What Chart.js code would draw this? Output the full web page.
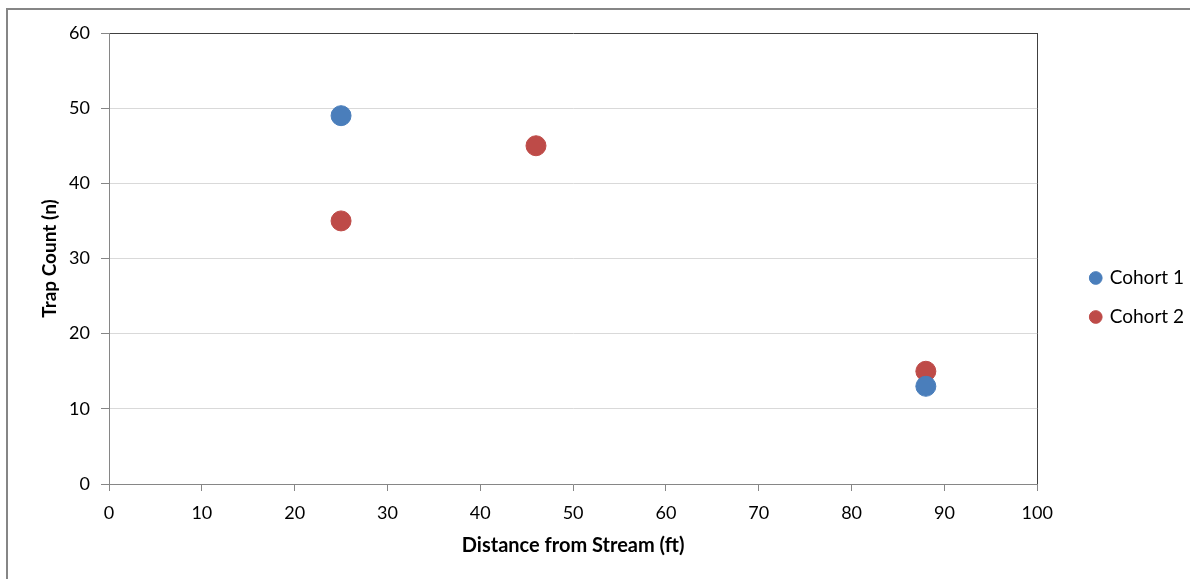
<!DOCTYPE html>
<html>
<head>
<meta charset="utf-8">
<script src="https://cdn.jsdelivr.net/npm/chart.js@4"></script>
<style>
  html, body { margin: 0; padding: 0; background: #fff; overflow: hidden; }
  #wrap { position: relative; width: 1190px; height: 579px; }
  #frame { position: absolute; left: 6px; top: 8px; width: 1300px; height: 700px;
           border: 2px solid #868686; pointer-events: none; }
</style>
</head>
<body>
<div id="wrap">
  <canvas id="plot"></canvas>
  <div id="frame"></div>
</div>
<script>
const seriesNames = ['Cohort 1', 'Cohort 2']
const cohort1X = [25, 88]
const cohort1Y = [49, 13]
const cohort2X = [25, 46, 88]
const cohort2Y = [35, 45, 15]
const colors = ['#4A7EBB', '#BE4B48']

const font = 'Lato, "Liberation Sans", sans-serif'

function toPoints (xs, ys) {
    return xs.map((x, i) => ({ x: x, y: ys[i] }))
}

// legend sits well away from the plot: reserve extra width, then slide it right
const legendGap = {
    id: 'legendGap',
    afterInit (chart) {
        const legend = chart.legend
        const fit = legend.fit
        legend.fit = function () {
            fit.call(this)
            this.width += 28
        }
    },
    afterLayout (chart) {
        const legend = chart.legend
        legend.left += 34
        legend.right += 34
        legend.top += 2
        legend.bottom += 2
    }
}

const config = {
    type: 'scatter',
    data: {
        datasets: [{
            label: seriesNames[0],
            data: toPoints(cohort1X, cohort1Y),
            backgroundColor: colors[0],
            borderColor: colors[0],
            pointRadius: 10,
            pointHoverRadius: 10
        }, {
            label: seriesNames[1],
            data: toPoints(cohort2X, cohort2Y),
            backgroundColor: colors[1],
            borderColor: colors[1],
            pointRadius: 10,
            pointHoverRadius: 10
        }]
    },
    options: {
        responsive: true,
        maintainAspectRatio: false,
        animation: false,
        layout: {
            padding: { left: 38, top: 33, right: 2, bottom: 21 }
        },
        plugins: {
            tooltip: { enabled: false },
            legend: {
                position: 'right',
                align: 'center',
                labels: {
                    usePointStyle: true,
                    boxWidth: 9,
                    boxHeight: 9,
                    padding: 20,
                    color: '#000',
                    font: { family: font, size: 19 }
                }
            }
        },
        scales: {
            x: {
                type: 'linear',
                min: 0,
                max: 100,
                afterFit: (s) => { s.height = 74 },
                ticks: {
                    stepSize: 10,
                    color: '#000',
                    padding: 11,
                    maxRotation: 0,
                    font: { family: font, size: 18 }
                },
                grid: {
                    drawOnChartArea: true,
                    color: (c) => c.tick && c.tick.value === 100 ? '#404040' : 'rgba(0,0,0,0)',
                    tickColor: '#868686',
                    tickLength: 7
                },
                border: { color: '#868686', width: 1 },
                title: {
                    display: true,
                    text: 'Distance from Stream (ft)',
                    color: '#000',
                    padding: 0,
                    font: { family: font, size: 20, weight: 'bold' }
                }
            },
            y: {
                min: 0,
                max: 60,
                afterFit: (s) => { s.width = 71 },
                ticks: {
                    stepSize: 10,
                    color: '#000',
                    padding: 11,
                    font: { family: font, size: 18 }
                },
                grid: {
                    color: (c) => c.tick && c.tick.value === 60 ? '#404040' : '#D9D9D9',
                    tickColor: '#868686',
                    tickLength: 8
                },
                border: { color: '#868686', width: 1 },
                title: {
                    display: true,
                    text: 'Trap Count (n)',
                    color: '#000',
                    padding: 0,
                    font: { family: font, size: 19, weight: 'bold' }
                }
            }
        }
    },
    plugins: [legendGap]
}

const chart = new Chart(document.getElementById('plot'), config)
</script>
</body>
</html>
